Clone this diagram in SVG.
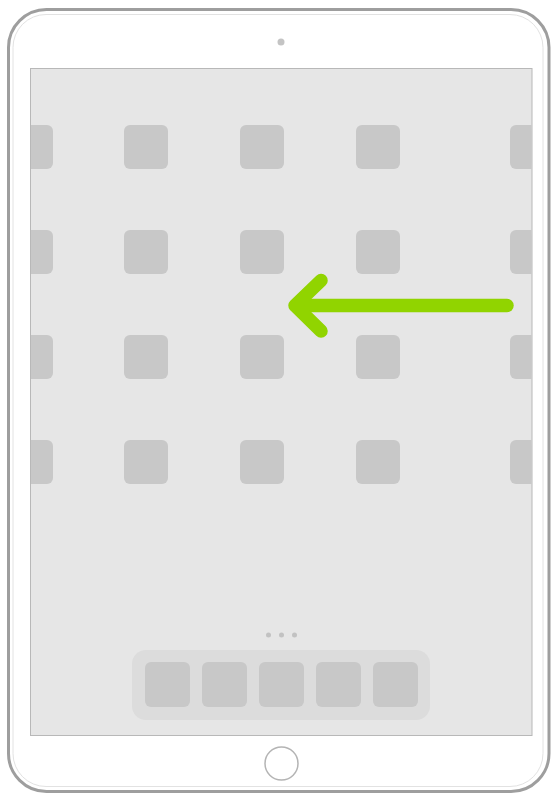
<svg xmlns="http://www.w3.org/2000/svg" width="552" height="794" viewBox="0 0 552 794">
  <style>
    .icon { fill: #c8c8c8; }
    .dockicon { fill: #c8c8c8; }
  </style>
  <rect width="552" height="794" fill="#ffffff"/>
  <g id="device">
    <rect x="8.5" y="9.5" width="540.5" height="782" rx="38" fill="#ffffff" stroke="#9e9e9e" stroke-width="3"/>
    <rect x="13" y="14.5" width="530" height="772" rx="33" fill="none" stroke="#e2e2e2" stroke-width="1"/>
    <circle cx="281" cy="42" r="3.5" fill="#c4c4c4"/>
    <circle cx="281.5" cy="763.5" r="16.5" fill="#ffffff" stroke="#b4b4b4" stroke-width="1.5"/>
  </g>
  <g id="screen">
    <rect x="30.5" y="68.5" width="501.5" height="667" fill="#e6e6e6" stroke="#b8b8b8" stroke-width="1"/>
  </g>
  <g id="icons">
    <rect class="icon" x="31" y="125" width="22" height="44" rx="6"/>
    <rect class="icon" x="31" y="125" width="8" height="44"/>
    <rect class="icon" x="124" y="125" width="44" height="44" rx="6"/>
    <rect class="icon" x="240" y="125" width="44" height="44" rx="6"/>
    <rect class="icon" x="356" y="125" width="44" height="44" rx="6"/>
    <rect class="icon" x="510" y="125" width="21.5" height="44" rx="6"/>
    <rect class="icon" x="522" y="125" width="9.5" height="44"/>

    <rect class="icon" x="31" y="230" width="22" height="44" rx="6"/>
    <rect class="icon" x="31" y="230" width="8" height="44"/>
    <rect class="icon" x="124" y="230" width="44" height="44" rx="6"/>
    <rect class="icon" x="240" y="230" width="44" height="44" rx="6"/>
    <rect class="icon" x="356" y="230" width="44" height="44" rx="6"/>
    <rect class="icon" x="510" y="230" width="21.5" height="44" rx="6"/>
    <rect class="icon" x="522" y="230" width="9.5" height="44"/>

    <rect class="icon" x="31" y="335" width="22" height="44" rx="6"/>
    <rect class="icon" x="31" y="335" width="8" height="44"/>
    <rect class="icon" x="124" y="335" width="44" height="44" rx="6"/>
    <rect class="icon" x="240" y="335" width="44" height="44" rx="6"/>
    <rect class="icon" x="356" y="335" width="44" height="44" rx="6"/>
    <rect class="icon" x="510" y="335" width="21.5" height="44" rx="6"/>
    <rect class="icon" x="522" y="335" width="9.5" height="44"/>

    <rect class="icon" x="31" y="440" width="22" height="44" rx="6"/>
    <rect class="icon" x="31" y="440" width="8" height="44"/>
    <rect class="icon" x="124" y="440" width="44" height="44" rx="6"/>
    <rect class="icon" x="240" y="440" width="44" height="44" rx="6"/>
    <rect class="icon" x="356" y="440" width="44" height="44" rx="6"/>
    <rect class="icon" x="510" y="440" width="21.5" height="44" rx="6"/>
    <rect class="icon" x="522" y="440" width="9.5" height="44"/>
  </g>
  <g id="page-dots" fill="#c2c2c2">
    <circle cx="268.5" cy="635" r="2.5"/>
    <circle cx="281.5" cy="635" r="2.5"/>
    <circle cx="294.5" cy="635" r="2.5"/>
  </g>
  <g id="dock">
    <rect x="132" y="650" width="298" height="70" rx="14" fill="#dcdcdc"/>
    <rect class="dockicon" x="145" y="662" width="45" height="45" rx="6"/>
    <rect class="dockicon" x="202" y="662" width="45" height="45" rx="6"/>
    <rect class="dockicon" x="259" y="662" width="45" height="45" rx="6"/>
    <rect class="dockicon" x="316" y="662" width="45" height="45" rx="6"/>
    <rect class="dockicon" x="373" y="662" width="45" height="45" rx="6"/>
  </g>
  <g id="connectors">
    <g id="swipe-arrow" fill="none" stroke="#91d400" stroke-width="13.5" stroke-linecap="round" stroke-linejoin="round">
      <line x1="507" y1="305.5" x2="296" y2="305.5"/>
      <polyline points="321,280.5 295,305.5 321,331"/>
    </g>
  </g>
</svg>
